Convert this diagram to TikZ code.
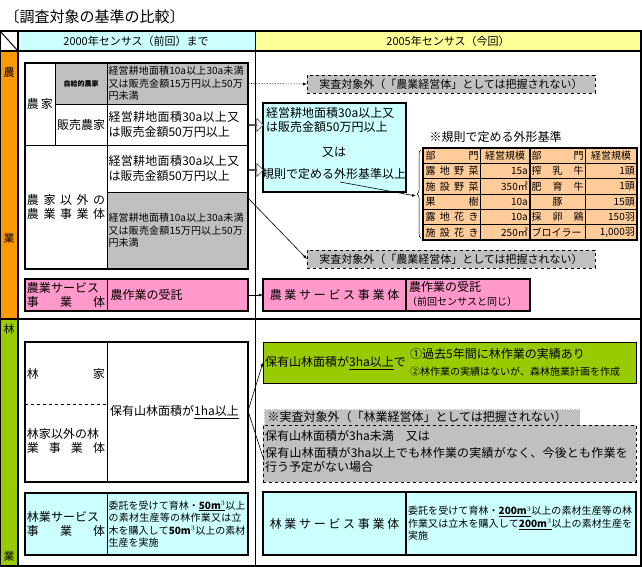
\documentclass[tikz,border=0pt]{standalone}
\usepackage{fontspec}
\setmainfont{Noto Sans CJK JP}
\XeTeXlinebreaklocale "ja"
\XeTeXlinebreakskip=0pt plus 1pt
\usetikzlibrary{arrows.meta,decorations.pathreplacing,shapes.arrows}
\definecolor{cy}{HTML}{CCFFFF}
\definecolor{ye}{HTML}{FFFF99}
\definecolor{og}{HTML}{FF9900}
\definecolor{gr}{HTML}{99CC00}
\definecolor{gy}{HTML}{C0C0C0}
\definecolor{pk}{HTML}{FF99CC}
\definecolor{pc}{HTML}{FFCC99}
\tikzset{
 box/.style={draw,anchor=north west,inner sep=2pt,outer sep=0pt},
 thick box/.style={box,line width=1.6pt},
 cell/.style={box,line width=0.6pt},
 txt/.style={font=\fontsize{11}{13.5}\selectfont},
 big/.style={font=\fontsize{12}{14.5}\selectfont},
 sm/.style={font=\fontsize{10}{12.5}\selectfont},
 arr/.style={-{Latex[length=4pt]},line width=0.6pt},
}
\begin{document}
\begin{tikzpicture}[x=1pt,y=-1pt]
\useasboundingbox (0,0) rectangle (642,567);
\node[anchor=west,font=\fontsize{15}{17}\selectfont] (title) at (1,17) {〔調査対象の基準の比較〕};
% header
\fill[cy] (18,31) rectangle (255,51);
\fill[ye] (255,31) rectangle (641,51);
\node[txt] (h1) at (136,41) {2000年センサス（前回）まで};
\node[txt] (h2) at (448,41) {2005年センサス（今回）};
\draw[line width=1pt] (0,31) -- (18,51);
% sidebars
\fill[og] (0,51) rectangle (18,318);
\fill[gr] (0,320) rectangle (18,566);
\node[txt] (s1) at (9,72) {農};
\node[txt] (s2) at (9,238) {業};
\node[txt] (s3) at (9,329) {林};
\node[txt] (s4) at (9,556) {業};
% grid lines
\draw[line width=1.6pt] (0,31) rectangle (641,566);
\draw[line width=1.6pt] (0,51) -- (641,51);
\draw[line width=1.6pt] (18,31) -- (18,566);
\draw[line width=0.8pt] (255,31) -- (255,566);
\draw[line width=1.6pt] (0,319) -- (641,319);

% ---- agriculture left
\node[cell,minimum width=30,minimum height=82] (nk) at (25,63) {};
\node[big,align=center] at (nk.center) {農\,家};
\node[cell,fill=gy,minimum width=52,minimum height=41] (jk) at (55,63) {};
\node[font=\bfseries\fontsize{7}{9}\selectfont] at (jk.center) {自給的農家};
\node[cell,fill=gy,minimum width=141,minimum height=41] (jkt) at (107,63) {};
\node[sm,text width=138,align=left,inner sep=1pt] at (jkt.center) {経営耕地面積10a以上30a未満又は販売金額15万円以上50万円未満};
\node[cell,minimum width=52,minimum height=41] (hk) at (55,104) {};
\node[big] at (hk.center) {販売農家};
\node[cell,minimum width=141,minimum height=41] (hkt) at (107,104) {};
\node[big,text width=138,align=left,inner sep=1pt] at (hkt.center) {経営耕地面積30a以上又は販売金額50万円以上};
\node[cell,minimum width=82,minimum height=124] (ig) at (25,145) {};
\node[big,text width=78,align=left] at (ig.center) {農\hfill 家\hfill 以\hfill 外\hfill の\\農\hfill 業\hfill 事\hfill 業\hfill 体};
\node[cell,minimum width=141,minimum height=47] (igw) at (107,145) {};
\node[big,text width=138,align=left,inner sep=1pt] at (igw.center) {経営耕地面積30a以上又は販売金額50万円以上};
\node[cell,fill=gy,minimum width=141,minimum height=77] (igg) at (107,192) {};
\node[sm,text width=138,align=left,inner sep=1pt] at (igg.center) {経営耕地面積10a以上30a未満又は販売金額15万円以上50万円未満};
\draw[line width=1.6pt] (25,63) rectangle (248,269);
% pink service
\node[cell,fill=pk,minimum width=82,minimum height=32] (ps) at (25,279) {};
\node[big,text width=78,align=left,inner sep=1pt] at (ps.center) {農業サービス\\事\hfill 業\hfill 体};
\node[cell,fill=pk,minimum width=141,minimum height=32] (pst) at (107,279) {};
\node[big,anchor=west] at (pst.west) {農作業の受託};
\draw[line width=1.6pt] (25,279) rectangle (248,311);

% ---- agriculture right
\node[box,draw=black,dashed,fill=gy,minimum width=288,minimum height=18,inner sep=1pt] (ex1) at (307,75) {};
\node[txt] at (ex1.center) {実査対象外（「農業経営体」としては把握されない）};
\draw[arr,densely dotted] (jkt.east) -- (ex1.west);
\node[thick box,fill=cy,minimum width=143,minimum height=89] (nb) at (263,103) {};
\node[big,anchor=north west,text width=140,align=left,inner sep=1pt] at (265,106) {経営耕地面積30a以上又\\は販売金額50万円以上};
\node[big] at (334,152) {又は};
\node[big] at (334,174) {規則で定める外形基準以上};
\node[draw,fill=white,single arrow,minimum height=15,minimum width=13,single arrow head extend=2pt,inner sep=0pt,line width=0.5pt] (ba1) at (255.5,125) {};
\node[draw,fill=white,single arrow,minimum height=15,minimum width=13,single arrow head extend=2pt,inner sep=0pt,line width=0.5pt] (ba2) at (255.5,170) {};
% criteria table
\node[big,anchor=west] (ct) at (426,137) {※規則で定める外形基準};
\fill[pc] (423,148) rectangle (637,240);
\draw[line width=1.6pt] (423,148) rectangle (637,240);
\foreach \y in {163.3,178.7,194,209.3,224.7} \draw[line width=0.6pt] (423,\y) -- (637,\y);
\draw[line width=0.6pt] (480,148) -- (480,240) (585,148) -- (585,240);
\draw[line width=1.4pt] (530,148) -- (530,240);
\foreach \a/\b/\c/\d [count=\i] in {部\hfill 門/経営規模/部\hfill 門/経営規模, 露\hfill 地\hfill 野\hfill 菜/15a/搾\hfill 乳\hfill 牛/1頭, 施\hfill 設\hfill 野\hfill 菜/350㎡/肥\hfill 育\hfill 牛/1頭, 果\hfill 樹/10a/\hfill 豚\hfill\null/15頭, 露\hfill 地\hfill 花\hfill き/10a/採\hfill 卵\hfill 鶏/150羽, 施\hfill 設\hfill 花\hfill き/250㎡/ブロイラー/{1,000羽}} {
 \pgfmathsetmacro\yy{148+(\i-0.5)*15.33}
 \node[sm,text width=53,align=left,inner sep=0pt] at (452,\yy) {\a};
 \ifnum\i=1 \node[sm,inner sep=0pt] at (505,\yy) {\b};\else \node[sm,anchor=east,inner sep=0pt] at (528,\yy) {\b};\fi
 \node[sm,text width=52,align=left,inner sep=0pt] at (557.5,\yy) {\c};
 \ifnum\i=1 \node[sm,inner sep=0pt] at (611,\yy) {\d};\else \node[sm,anchor=east,inner sep=0pt] at (635,\yy) {\d};\fi
}
\draw[decorate,decoration={brace,amplitude=4pt,mirror},line width=0.5pt] (421,150) -- (421,238);
\coordinate (brt) at (416,196);
\draw[line width=0.6pt,{Latex[length=4pt]}-] (brt) -- (340,182);
\node[box,draw=black,dashed,fill=gy,minimum width=288,minimum height=18,inner sep=1pt] (ex2) at (307,250) {};
\node[txt] at (ex2.center) {実査対象外（「農業経営体」としては把握されない）};
\draw[arr] (248,198) -- (ex2.west);
\node[thick box,fill=pk,minimum width=143,minimum height=32] (ps2) at (263,279) {};
\node[big] at (ps2.center) {農\ 業\ サ\ ー\ ビ\ ス\ 事\ 業\ 体};
\node[thick box,fill=pk,minimum width=124,minimum height=32] (ps2t) at (406,279) {};
\node[big,anchor=north west,inner sep=1pt] at (408,280) {農作業の受託};
\node[sm,anchor=north west,inner sep=1pt] at (406,296) {（前回センサスと同じ）};
\draw[arr] (pst.east) -- (ps2.west);

% ---- forestry left
\draw[line width=1.6pt] (25,342) rectangle (248,482);
\draw[line width=0.6pt] (107,342) -- (107,482);
\draw[dashed,line width=0.6pt] (25,404) -- (107,404);
\node[big,text width=78,align=left] (rk) at (66,374) {林\hfill 家};
\node[big,text width=78,align=left] (rki) at (66,441) {林家以外の林\\業\hfill 事\hfill 業\hfill 体};
\node[big,anchor=west,inner sep=1pt] (r1) at (109,412) {保有山林面積が\underline{1ha以上}};
\node[cell,fill=cy,minimum width=82,minimum height=62] (rs) at (25,493) {};
\node[big,text width=78,align=left,inner sep=1pt] at (rs.center) {林業サービス\\事\hfill 業\hfill 体};
\node[cell,fill=cy,minimum width=141,minimum height=62] (rst) at (107,493) {};
\node[sm,text width=138,align=left,inner sep=1pt] at (rst.center) {委託を受けて育林・\textbf{\underline{50m$^3$}}以上の素材生産等の林作業又は立木を購入して\textbf{50m$^3$}以上の素材生産を実施};
\draw[line width=1.6pt] (25,493) rectangle (248,555);

% ---- forestry right
\node[box,fill=gr,minimum width=373,minimum height=41] (g) at (263,342) {};
\node[big,anchor=west,inner sep=1pt] at (264,363) {保有山林面積が\underline{3ha以上}で};
\node[big,anchor=west,inner sep=1pt] at (409,354) {①過去5年間に林作業の実績あり};
\node[sm,anchor=west,inner sep=1pt] at (409,372) {②林作業の実績はないが、森林施業計画を作成};
\node[box,fill=gy,draw=white,dotted,minimum width=316,minimum height=16,inner sep=1pt] (ex3) at (264,409) {};
\node[big,anchor=west] at (ex3.west) {※実査対象外（「林業経営体」としては把握されない）};
\node[box,dashed,fill=gy,minimum width=373,minimum height=57] (ex4) at (263,425) {};
\node[big,anchor=west,inner sep=1pt] at (264,436) {保有山林面積が3ha未満\quad 又は};
\node[big,anchor=north west,text width=368,align=left,inner sep=1pt] at (264,446) {保有山林面積が3ha以上でも林作業の実績がなく、今後とも作業を行う予定がない場合};
\coordinate (fork) at (248,411);
\draw[arr] (fork) -- (g.west);
\draw[line width=0.6pt] (fork) -- (264,460);
\node[thick box,fill=cy,minimum width=143,minimum height=63] (rs2) at (263,492) {};
\node[big] at (rs2.center) {林\ 業\ サ\ ー\ ビ\ ス\ 事\ 業\ 体};
\node[thick box,fill=cy,minimum width=230,minimum height=63] (rs2t) at (406,492) {};
\node[sm,text width=226,align=left,inner sep=1pt] at (rs2t.center) {委託を受けて育林・\textbf{\underline{200m$^3$}}以上の素材生産等の林作業又は立木を購入して\textbf{\underline{200m$^3$}}以上の素材生産を実施};
\end{tikzpicture}
\end{document}
